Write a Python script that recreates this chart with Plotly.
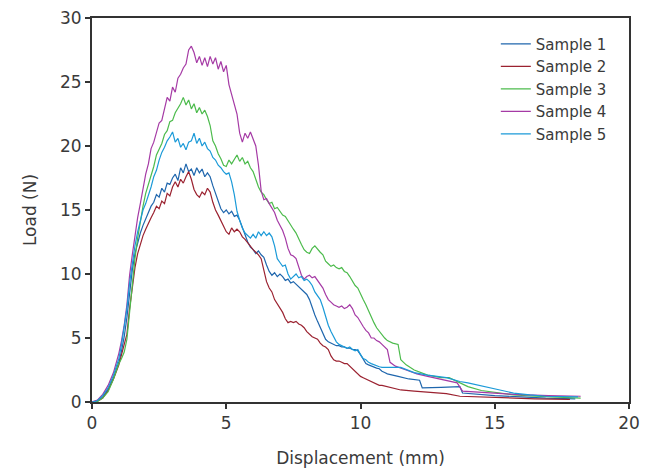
import plotly.graph_objects as go

# Shared x grid for the main part of the curves (mm)
x_main = [0, 0.2, 0.4, 0.6, 0.8] + [round(1.0 + 0.1 * i, 1) for i in range(101)]

# Sample 1 (dark blue)
s1_main = [0, 0.1, 0.4, 1.0, 1.9,
           3.1, 4.0, 5.1, 6.6, 8.6, 10.3, 11.6, 12.5, 13.2, 13.8,
           14.3, 14.8, 15.3, 15.6, 16.2, 16.0, 16.7, 16.4, 17.1, 17.0,
           17.5, 17.8, 17.3, 18.3, 17.9, 18.6, 18.0, 18.2, 17.7, 18.3,
           17.9, 18.2, 17.6, 17.9, 17.6, 16.9, 16.3, 15.6, 15.1, 14.8,
           15.0, 14.7, 14.9, 14.5, 14.6, 14.2, 13.6, 13.0, 12.5, 12.1,
           11.9, 11.6, 11.8, 11.5, 11.3, 10.7, 10.2, 9.9, 10.1, 9.8,
           10.0, 9.8, 9.5, 9.6, 9.3, 9.4, 9.2, 9.0, 8.8, 8.6,
           8.4, 8.0, 7.3, 6.8, 6.3, 5.8, 5.3, 4.9, 4.7, 4.6,
           4.5, 4.4, 4.4, 4.3, 4.3, 4.2, 4.2, 4.1, 4.1, 4.0,
           3.7, 3.3, 3.0, 2.9, 2.8, 2.7, 2.65, 2.6, 2.4, 2.3, 2.2]
s1_tail_x = [11.4, 11.8, 12.2, 12.3, 13.0, 13.7, 13.8, 15.0, 16.0, 16.9, 18.0]
s1_tail_y = [2.0, 1.8, 1.7, 1.1, 1.15, 1.2, 0.7, 0.5, 0.4, 0.3, 0.25]

# Sample 2 (dark red)
s2_main = [0, 0.05, 0.3, 0.9, 1.8,
           2.9, 3.7, 4.4, 5.3, 7.3, 9.0, 10.5, 11.6, 12.4, 13.0,
           13.5, 14.0, 14.4, 14.8, 15.3, 15.1, 15.7, 15.5, 16.3, 16.1,
           16.8, 17.2, 16.8, 17.4, 17.1, 17.6, 18.0, 17.4, 16.6, 16.2,
           16.0, 16.4, 16.2, 16.7, 16.4, 15.6, 15.0, 14.6, 14.2, 13.8,
           13.3, 13.1, 13.6, 13.3, 13.5, 13.3, 12.9, 12.7, 12.4, 12.1,
           11.9, 11.7, 11.5, 11.2, 10.4, 9.4, 8.9, 8.6, 8.0, 7.7,
           7.4, 7.0, 6.5, 6.2, 6.3, 6.2, 6.3, 6.1, 6.0, 5.8,
           5.5, 5.3, 5.1, 5.0, 4.9, 4.6, 4.4, 4.3, 4.1, 3.6,
           3.3, 3.2, 3.2, 3.1, 3.0, 3.0, 2.8, 2.6, 2.4, 2.2,
           2.0, 1.9, 1.8, 1.7, 1.6, 1.5, 1.4, 1.3, 1.3, 1.25, 1.2]
s2_tail_x = [11.5, 12.0, 12.7, 13.2, 13.7, 14.5, 15.5, 16.5, 17.8]
s2_tail_y = [0.94, 0.85, 0.75, 0.65, 0.45, 0.38, 0.3, 0.25, 0.2]

# Sample 3 (green)
s3_main = [0, 0.05, 0.3, 0.8, 1.8,
           3.0, 3.4, 3.9, 4.9, 7.2, 9.3, 11.2, 12.8, 14.2, 15.3,
           16.3, 17.0, 17.9, 18.4, 19.3, 19.8, 20.2, 20.9, 21.2, 21.9,
           22.0, 22.6, 22.9, 23.3, 23.8, 23.2, 23.6, 22.9, 23.3, 22.6,
           23.0, 22.5, 22.8, 22.3, 21.6, 20.4, 20.0, 19.4, 19.0, 18.5,
           18.4, 18.9, 18.6, 19.0, 19.3, 18.8, 19.1, 18.6, 18.8, 18.3,
           18.0, 17.4, 16.8, 16.4, 16.2, 15.8, 15.5, 15.6, 15.1, 15.2,
           14.9, 14.6, 14.5, 14.2, 13.9, 13.5, 13.2, 12.7, 12.3, 11.9,
           11.7, 11.6, 12.0, 12.2, 11.9, 11.7, 11.5, 11.0, 10.8, 10.6,
           10.7, 10.5, 10.4, 10.5, 10.2, 10.1, 9.8, 9.4, 9.1, 8.9,
           8.4, 8.0, 7.6, 7.1, 6.7, 6.2, 5.8, 5.5, 5.2, 5.0, 4.8]
s3_tail_x = [11.2, 11.4, 11.5, 11.7, 12.0, 12.5, 13.0, 13.3, 13.7, 14.0, 14.5, 15.0, 15.7, 16.5, 17.5, 18.2]
s3_tail_y = [4.6, 4.5, 3.3, 2.9, 2.5, 2.1, 1.9, 1.9, 1.5, 1.2, 0.9, 0.75, 0.55, 0.45, 0.35, 0.3]

# Sample 4 (purple)
s4_main = [0, 0.15, 0.6, 1.3, 2.3,
           3.8, 4.8, 6.0, 7.6, 9.9, 11.5, 13.0, 14.4, 15.5, 16.8,
           17.8, 18.6, 19.8, 20.3, 21.0, 21.8, 22.0, 22.8, 23.8, 23.5,
           24.6, 24.2, 25.3, 25.6, 26.1, 26.4, 27.5, 27.8, 27.3, 26.5,
           27.0, 26.3, 26.9, 26.2, 27.0, 26.4, 26.9, 26.0, 26.6, 25.8,
           26.3, 24.8, 24.0, 23.2, 22.5, 21.0, 20.3, 21.0, 20.6, 21.1,
           20.5, 20.0, 18.5, 16.5, 15.8, 15.9, 15.5, 15.2, 14.8, 14.2,
           13.8, 13.4, 12.8, 12.0, 11.5, 11.4, 11.2, 10.5, 9.9, 9.6,
           9.8, 9.9, 9.7, 9.8, 9.5, 9.2, 8.9, 8.4, 8.0, 7.8,
           7.6, 7.5, 7.4, 7.5, 7.3, 7.4, 7.6, 7.3, 6.8, 6.6,
           6.2, 5.9, 5.6, 5.4, 5.0, 5.0, 4.8, 4.7, 4.5, 4.3, 4.1]
s4_tail_x = [11.1, 11.3, 11.7, 12.1, 12.5, 13.0, 13.6, 13.8, 14.5, 15.7, 17.0, 18.2]
s4_tail_y = [3.1, 2.8, 2.5, 2.2, 2.0, 1.75, 1.5, 0.85, 0.75, 0.6, 0.5, 0.45]

# Sample 5 (light blue)
s5_main = [0, 0.1, 0.5, 1.1, 2.1,
           3.4, 4.5, 5.8, 7.3, 9.3, 10.9, 12.2, 13.3, 14.2, 15.0,
           15.5, 16.1, 16.8, 17.6, 18.1, 18.9, 19.5, 19.9, 20.4, 20.7,
           21.1, 20.3, 20.6, 19.9, 20.2, 19.7, 20.3, 20.4, 21.0, 20.2,
           20.6, 20.0, 20.3, 19.8, 19.6, 19.1, 18.9, 18.5, 18.3, 18.0,
           17.8, 17.9, 17.2, 16.2, 14.9, 14.2, 13.6, 13.2, 13.0, 12.8,
           13.1, 12.8, 13.3, 13.0, 13.3, 13.0, 13.2, 12.9, 12.2, 11.2,
           10.9, 10.6, 10.7, 10.0, 9.6, 9.8, 10.0, 9.7, 9.8, 9.5,
           9.6, 9.4, 9.1, 8.6, 8.3, 8.0, 7.4, 6.6, 6.0, 5.5,
           5.1, 4.7, 4.5, 4.4, 4.3, 4.2, 4.3, 4.1, 4.0, 4.1,
           3.7, 3.4, 3.3, 3.1, 3.0, 2.9, 2.8, 2.75, 2.7, 2.7, 2.7]
s5_tail_x = [11.5, 12.0, 12.5, 13.2, 13.7, 14.0, 14.6, 15.2, 15.7, 16.3, 16.9, 18.1]
s5_tail_y = [2.7, 2.3, 2.1, 1.9, 1.6, 1.5, 1.2, 0.9, 0.7, 0.55, 0.45, 0.4]

names = ["Sample 1", "Sample 2", "Sample 3", "Sample 4", "Sample 5"]
colors = ["#1f66ad", "#9b2230", "#4cbb4c", "#a53aa5", "#1b9ad8"]
series = [
    (s1_main, s1_tail_x, s1_tail_y),
    (s2_main, s2_tail_x, s2_tail_y),
    (s3_main, s3_tail_x, s3_tail_y),
    (s4_main, s4_tail_x, s4_tail_y),
    (s5_main, s5_tail_x, s5_tail_y),
]

fig = go.Figure()
for name, color, (ym, tx, ty) in zip(names, colors, series):
    fig.add_trace(go.Scatter(
        x=x_main + tx, y=ym + ty, mode="lines", name=name,
        line=dict(color=color, width=1.2),
    ))

font_family = "'DejaVu Sans', sans-serif"
text_color = "#3a3a3a"
fig.update_layout(
    width=654, height=472,
    margin=dict(l=92, r=25, t=18, b=70, autoexpand=False),
    paper_bgcolor="white", plot_bgcolor="white",
    font=dict(family=font_family, color=text_color, size=16),
    showlegend=True,
    legend=dict(
        x=0.752, y=0.975, xanchor="left", yanchor="top",
        font=dict(size=15, color=text_color),
        bgcolor="rgba(0,0,0,0)", itemwidth=30, tracegroupgap=0,
    ),
    xaxis=dict(
        range=[0, 20], tickvals=[0, 5, 10, 15, 20],
        showgrid=False, zeroline=False,
        showline=True, linecolor="#333333", linewidth=2, mirror=True,
        ticks="outside", ticklen=5, tickwidth=2, tickcolor="#333333",
        tickfont=dict(size=17),
        title=dict(text="Displacement (mm)", font=dict(size=17), standoff=20),
        automargin=False,
    ),
    yaxis=dict(
        range=[0, 30], tickvals=[0, 5, 10, 15, 20, 25, 30],
        showgrid=False, zeroline=False,
        showline=True, linecolor="#333333", linewidth=2, mirror=True,
        ticks="outside", ticklen=5, tickwidth=2, tickcolor="#333333",
        tickfont=dict(size=17),
        title=dict(text="Load (N)", font=dict(size=17), standoff=19),
        automargin=False,
    ),
)

fig.write_html("out.html", config={"displayModeBar": False},
               post_script="document.body.style.margin='0';")
